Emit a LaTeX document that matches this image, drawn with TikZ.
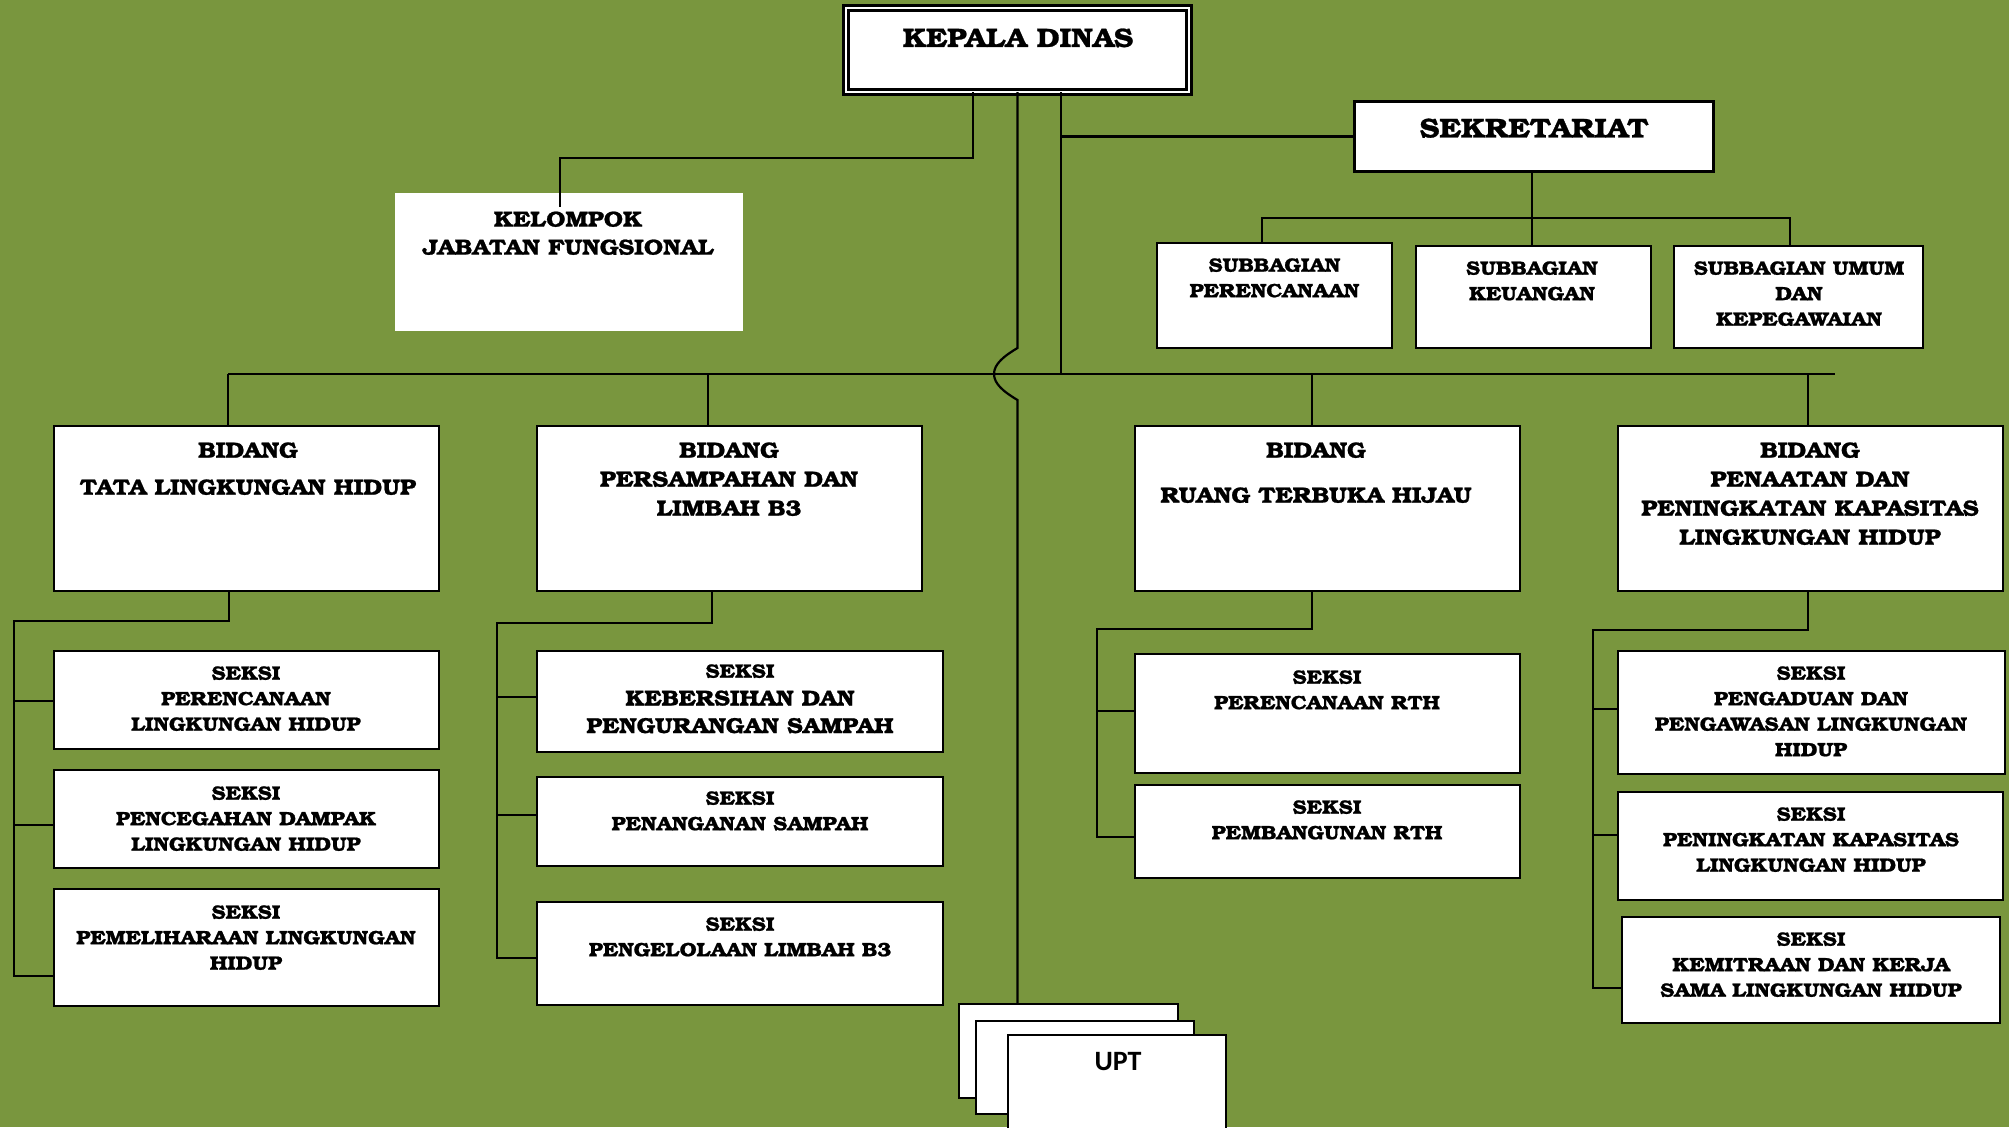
\documentclass[tikz,border=0pt]{standalone}
\usepackage{fontspec}
\usetikzlibrary{calc}
\newfontfamily\bkfont{texgyrebonum-bold.otf}[FakeStretch=1.1, FakeBold=1.0]
\newfontfamily\uptfont{Carlito}
\definecolor{bg}{RGB}{121,150,62}

\begin{document}
\begin{tikzpicture}[x=1pt,y=-1pt,
  box/.style={draw=black, line width=2.2pt, fill=white, inner sep=0pt, outer sep=0pt},
  plainbox/.style={fill=white, inner sep=0pt, outer sep=0pt},
  conn/.style={draw=black, line width=2.2pt},
  lbl/.style={anchor=north, inner sep=0pt, outer sep=0pt, align=center},
  ttop/.style={lbl, font=\bkfont\fontsize{26.6}{32}\selectfont},
  tsec/.style={lbl, font=\bkfont\fontsize{27.2}{32}\selectfont},
  tkj/.style={lbl, font=\bkfont\fontsize{21.8}{28}\selectfont},
  tbid/.style={lbl, font=\bkfont\fontsize{22}{29}\selectfont},
  tsub/.style={lbl, font=\bkfont\fontsize{19.3}{25.5}\selectfont},
  tsek/.style={lbl, font=\bkfont\fontsize{19.3}{25.5}\selectfont},
  tsekbig/.style={lbl, font=\bkfont\fontsize{21.6}{27.5}\selectfont},
]
% canvas
\fill[bg] (0,0) rectangle (2009,1127);
\useasboundingbox (0,0) rectangle (2009,1127);
\clip (0,0) rectangle (2009,1127);

% head of office (double frame)
\node[box, line width=2.4pt, double=white, double distance=2.4pt,
      minimum width=343, minimum height=84] (kd) at (1017.5,50) {};
\node[ttop] (kdt) at (1018,28.5) {KEPALA DINAS};

% secretariat and its sub-sections
\node[box, minimum width=359, minimum height=70] (sek) at (1534,136.5) {};
\node[tsec] (sekt) at (1534,118.6) {SEKRETARIAT};
\node[box, minimum width=235, minimum height=105] (sub1) at (1274.5,295.5) {};
\node[box, minimum width=235, minimum height=102] (sub2) at (1533.5,297) {};
\node[box, minimum width=249, minimum height=102] (sub3) at (1798.5,297) {};
\node[tsub] (sub1t) at (1274.5,258.3) {SUBBAGIAN\\PERENCANAAN};
\node[tsub] (sub2t) at (1532,261.3) {SUBBAGIAN\\KEUANGAN};
\node[tsub] (sub3t) at (1799,261.3) {SUBBAGIAN UMUM\\DAN\\KEPEGAWAIAN};

% functional group
\node[plainbox, minimum width=348, minimum height=138] (kj) at (569,262) {};
\node[tkj] (kjt) at (568,211.5) {KELOMPOK\\JABATAN FUNGSIONAL};

% divisions
\node[box, minimum width=385, minimum height=165] (b1) at (246.5,508.5) {};
\node[box, minimum width=385, minimum height=165] (b2) at (729.5,508.5) {};
\node[box, minimum width=385, minimum height=165] (b3) at (1327.5,508.5) {};
\node[box, minimum width=385, minimum height=165] (b4) at (1810.5,508.5) {};
\node[tbid] (b1t) at (248,442.4) {BIDANG\\[8pt]TATA LINGKUNGAN HIDUP};
\node[tbid] (b2t) at (729,442.4) {BIDANG\\PERSAMPAHAN DAN\\LIMBAH B3};
\node[tbid] (b3t) at (1316,442.4) {BIDANG\\[16pt]RUANG TERBUKA HIJAU};
\node[tbid] (b4t) at (1810,442.4) {BIDANG\\PENAATAN DAN\\PENINGKATAN KAPASITAS\\LINGKUNGAN HIDUP};

% sections
\node[box, minimum width=385, minimum height=98]  (s1)  at (246.5,700) {};
\node[box, minimum width=385, minimum height=98]  (s2)  at (246.5,819) {};
\node[box, minimum width=385, minimum height=117] (s3)  at (246.5,947.5) {};
\node[box, minimum width=406, minimum height=101] (s4)  at (740,701.5) {};
\node[box, minimum width=406, minimum height=89]  (s5)  at (740,821.5) {};
\node[box, minimum width=406, minimum height=103] (s6)  at (740,953.5) {};
\node[box, minimum width=385, minimum height=119] (s7)  at (1327.5,713.5) {};
\node[box, minimum width=385, minimum height=93]  (s8)  at (1327.5,831.5) {};
\node[box, minimum width=387, minimum height=123] (s9)  at (1811.5,712.5) {};
\node[box, minimum width=385, minimum height=108] (s10) at (1810.5,846) {};
\node[box, minimum width=378, minimum height=106] (s11) at (1811,970) {};

\node[tsek] (s1t) at (246,666.3) {SEKSI\\PERENCANAAN\\LINGKUNGAN HIDUP};
\node[tsek] (s2t) at (246,786.3) {SEKSI\\PENCEGAHAN DAMPAK\\LINGKUNGAN HIDUP};
\node[tsek] (s3t) at (246,905.3) {SEKSI\\PEMELIHARAAN LINGKUNGAN\\HIDUP};
\node[tsek] (s4t) at (740,664.3) {SEKSI};
\node[tsekbig] (s4u) at (740,690.5) {KEBERSIHAN DAN\\PENGURANGAN SAMPAH};
\node[tsek] (s5t) at (740,791.3) {SEKSI\\PENANGANAN SAMPAH};
\node[tsek] (s6t) at (740,917.3) {SEKSI\\PENGELOLAAN LIMBAH B3};
\node[tsek] (s7t) at (1327,670.3) {SEKSI\\PERENCANAAN RTH};
\node[tsek] (s8t) at (1327,800.3) {SEKSI\\PEMBANGUNAN RTH};
\node[tsek] (s9t) at (1811,666.3) {SEKSI\\PENGADUAN DAN\\PENGAWASAN LINGKUNGAN\\HIDUP};
\node[tsek] (s10t) at (1811,807.3) {SEKSI\\PENINGKATAN KAPASITAS\\LINGKUNGAN HIDUP};
\node[tsek] (s11t) at (1811,932.3) {SEKSI\\KEMITRAAN DAN KERJA\\SAMA LINGKUNGAN HIDUP};

% technical units (stacked sheets)
\node[box, minimum width=219, minimum height=94] (upt1) at (1068.5,1051) {};
\node[box, minimum width=218, minimum height=93] (upt2) at (1085,1067.5) {};
\node[box, minimum width=218, minimum height=110] (upt3) at (1117,1090) {};
\node[lbl, font=\uptfont\bfseries\fontsize{28}{32}\selectfont] (uptt) at (1118,1052) {UPT};

% connectors
\coordinate (busL) at (228,374);
\coordinate (busR) at (1835,374);
\draw[conn] (busL) -- (busR);

\draw[conn] (kd.south -| 973,0) |- (560,158) -- ($(kj.north -| 560,0)+(0,14)$);
\draw[conn] (kd.south) -- (1017.5,348)
   .. controls (1004,356) and (994,364) .. (994,374)
   .. controls (994,384) and (1004,392) .. (1017.5,400)
   -- (upt1.north -| kd.south);
\draw[conn] (kd.south -| 1061,0) -- (1061,374);
\draw[conn] (sek.west -| 1061,0) -- (sek.west);

\draw[conn] (sek.south -| 1532,0) -- (1532,218);
\draw[conn] (sub1.north -| 1262,0) -- (1262,218) -- (1790,218) -- (sub3.north -| 1790,0);
\draw[conn] (1532,218) -- (sub2.north -| 1532,0);

\draw[conn] (busL) -- (b1.north -| busL);
\draw[conn] (708,374) -- (b2.north -| 708,0);
\draw[conn] (1312,374) -- (b3.north -| 1312,0);
\draw[conn] (1808,374) -- (b4.north -| 1808,0);

\draw[conn] (b1.south -| 229,0) -- (229,621) -- (14,621) -- (14,976) -- (s3.west |- 0,976);
\draw[conn] (14,701) -- (s1.west |- 0,701);
\draw[conn] (14,825) -- (s2.west |- 0,825);

\draw[conn] (b2.south -| 712,0) -- (712,623) -- (497,623) -- (497,958) -- (s6.west |- 0,958);
\draw[conn] (497,697) -- (s4.west |- 0,697);
\draw[conn] (497,815) -- (s5.west |- 0,815);

\draw[conn] (b3.south -| 1312,0) -- (1312,629) -- (1097,629) -- (1097,837) -- (s8.west |- 0,837);
\draw[conn] (1097,711) -- (s7.west |- 0,711);

\draw[conn] (b4.south -| 1808,0) -- (1808,630) -- (1593,630) -- (1593,988) -- (s11.west |- 0,988);
\draw[conn] (1593,709) -- (s9.west |- 0,709);
\draw[conn] (1593,835) -- (s10.west |- 0,835);
\end{tikzpicture}
\end{document}
